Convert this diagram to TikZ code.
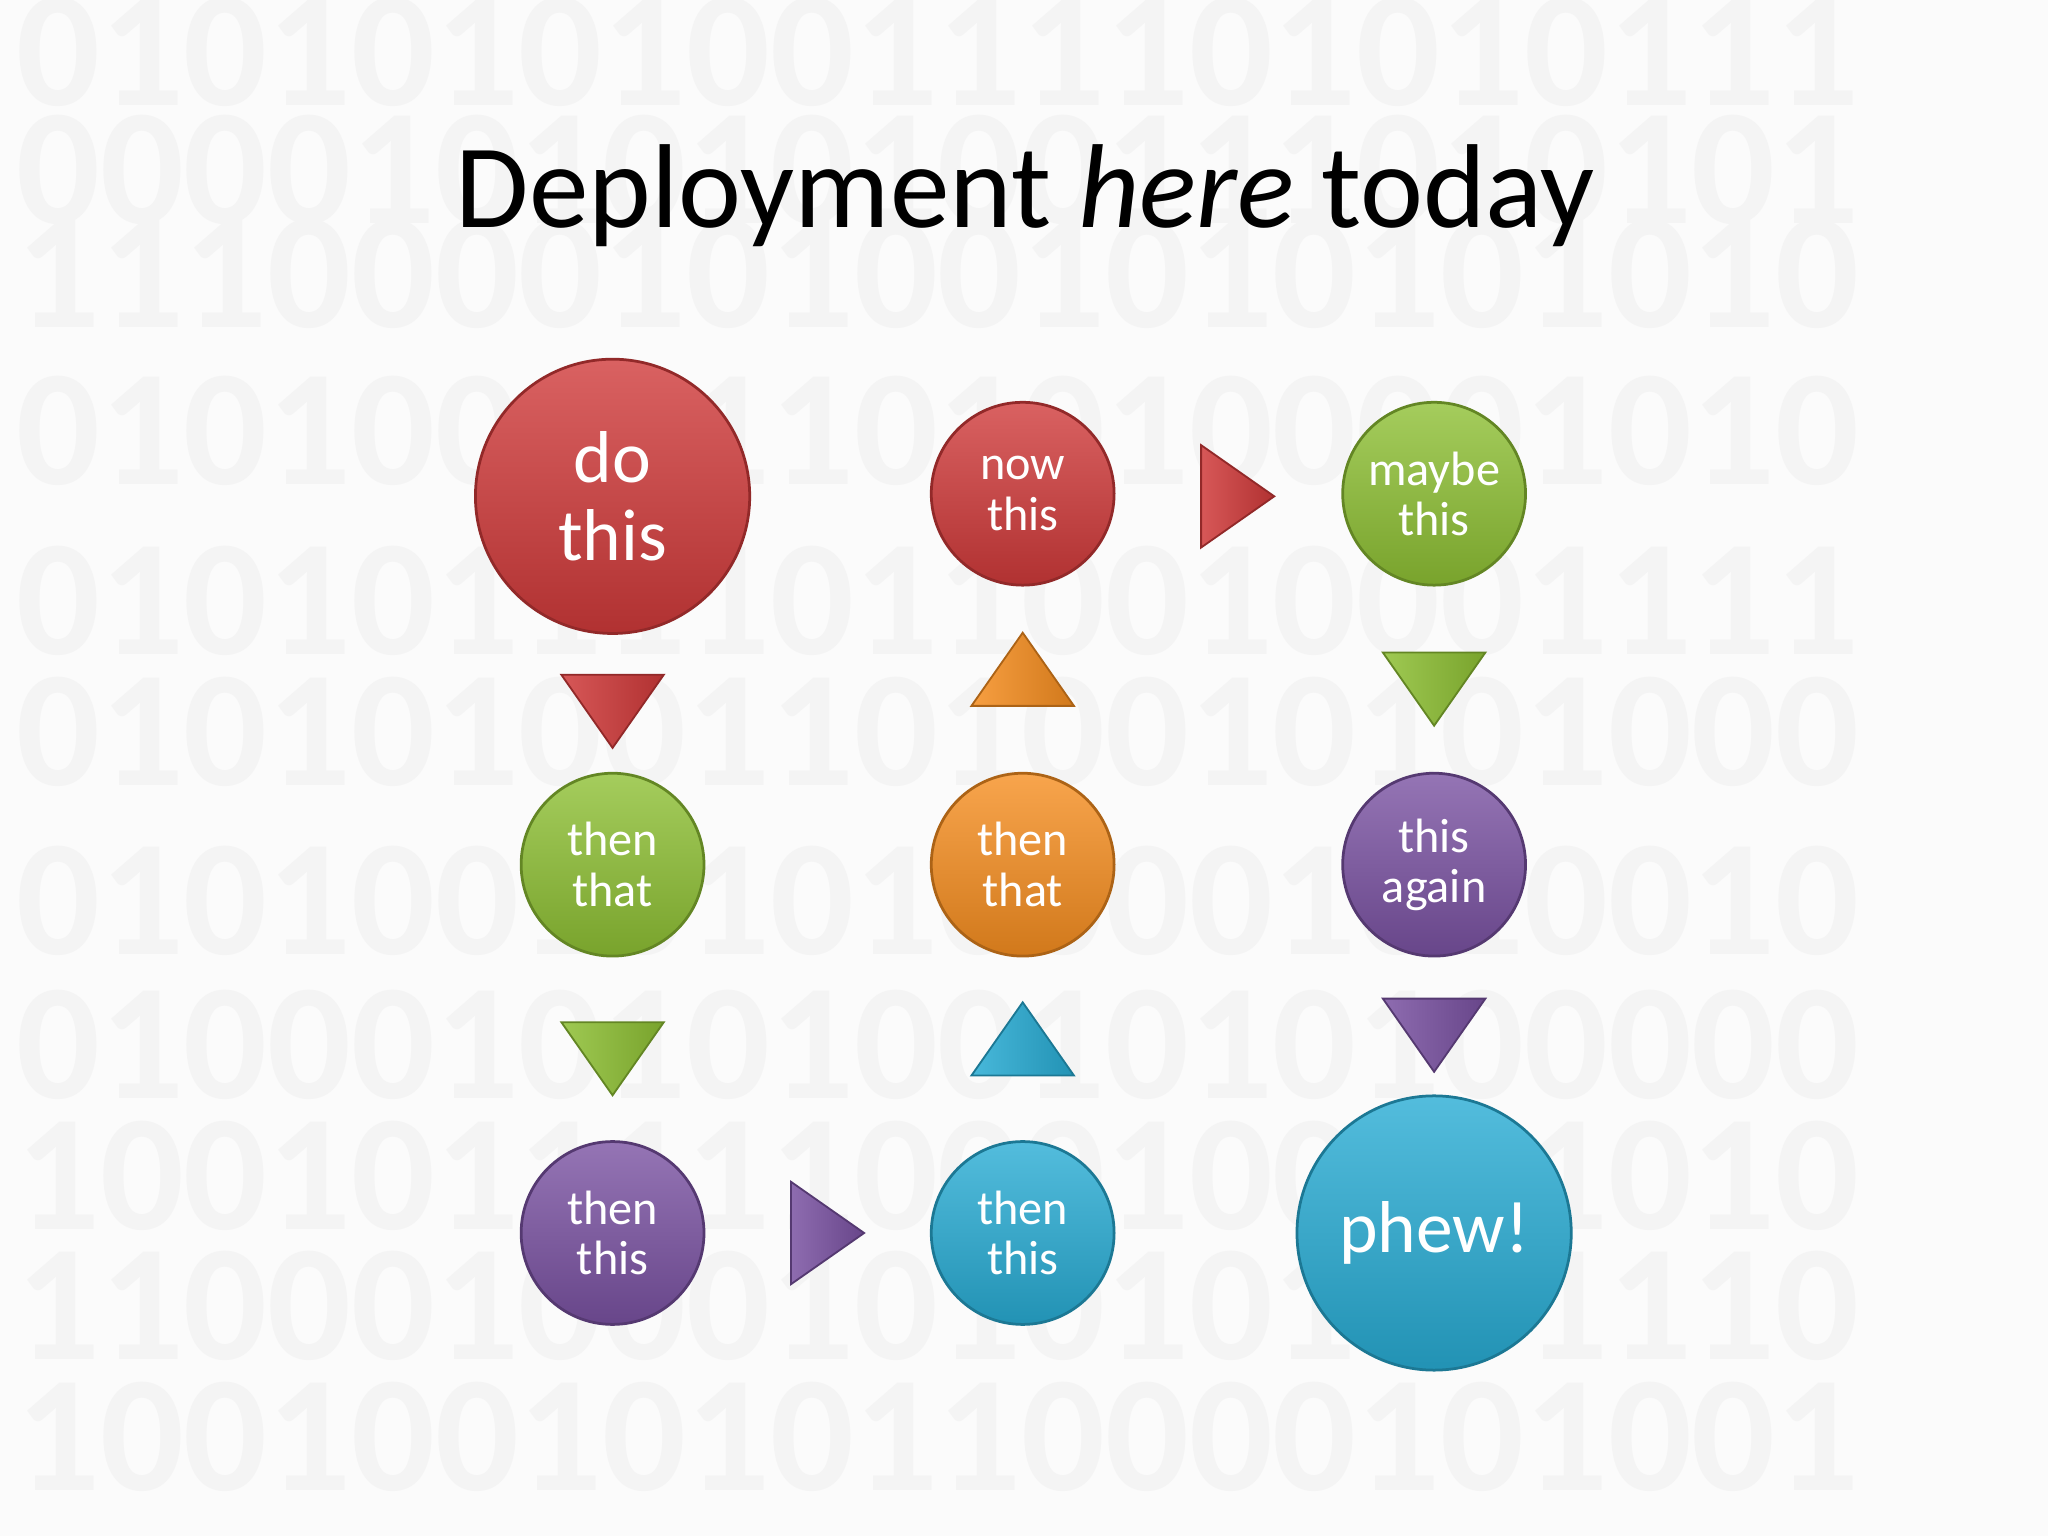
\documentclass[tikz,border=0pt]{standalone}
\usepackage{fontspec}
\setmainfont{Carlito}
\usetikzlibrary{shapes.geometric}
\definecolor{cred}{RGB}{208,58,58}
\definecolor{cgreen}{RGB}{142,192,52}
\definecolor{corange}{RGB}{246,142,32}
\definecolor{cpurple}{RGB}{122,82,162}
\definecolor{ccyan}{RGB}{40,172,212}
\tikzset{
 ball/.style={circle,draw=#1!70!black,line width=0.6pt,top color=#1!80!white,bottom color=#1!85!black,text=white,align=center,font=\fontsize{10.5}{11}\selectfont,inner sep=0pt},
 small/.style={minimum size=14mm},
 big/.style={minimum size=21mm,font=\fontsize{16}{17}\selectfont},
 tri/.style={isosceles triangle,isosceles triangle apex angle=70,draw=#1!70!black,line width=0.4pt,left color=#1!85!white,right color=#1!85!black,minimum height=5.6mm,inner sep=0pt},
 digits/.style={text=white!91!gray,font=\fontsize{36}{36}\selectfont\bfseries,anchor=west}
}
\begin{document}
\begin{tikzpicture}[x=0.1mm,y=-0.1mm]
\useasboundingbox (0,0) rectangle (1568,1176);
\fill[white!97!gray] (0,0) rectangle (1568,1176);
\foreach \y/\s in {40/0101010100111101010111,130/0000101010100111010101,210/1110000101001010101010,330/0101001111010100001010,460/0101011110110010001111,560/0101010011010010101000,690/0101001010100001010010,800/0100010101001010100000,900/1001011111000100001010,1000/1100010001010101101110,1100/1001001010110000101001}
 \node[digits] at (0,\y) {\s};
\node[font=\fontsize{26}{30}\selectfont] (title) at (785,150) {Deployment \textit{here} today};
\node[ball=cred,big] (a) at (469,380) {do\\this};
\node[ball=cred,small] (b) at (783,378) {now\\this};
\node[ball=cgreen,small] (c) at (1098,378) {maybe\\this};
\node[ball=cgreen,small] (d) at (469,662) {then\\that};
\node[ball=corange,small] (e) at (783,662) {then\\that};
\node[ball=cpurple,small] (f) at (1098,662) {this\\again};
\node[ball=cpurple,small] (g) at (469,944) {then\\this};
\node[ball=ccyan,small] (h) at (783,944) {then\\this};
\node[ball=ccyan,big] (i) at (1098,944) {phew!};
\node[tri=cred,rotate=-90] (t1) at (469,537) {};
\node[tri=cgreen,rotate=-90] (t2) at (469,803) {};
\node[tri=corange,rotate=90] (t3) at (783,520) {};
\node[tri=ccyan,rotate=90] (t4) at (783,803) {};
\node[tri=cgreen,rotate=-90] (t5) at (1098,520) {};
\node[tri=cpurple,rotate=-90] (t6) at (1098,785) {};
\node[tri=cred] (t7) at (940,380) {};
\node[tri=cpurple] (t8) at (626,944) {};
\end{tikzpicture}
\end{document}
